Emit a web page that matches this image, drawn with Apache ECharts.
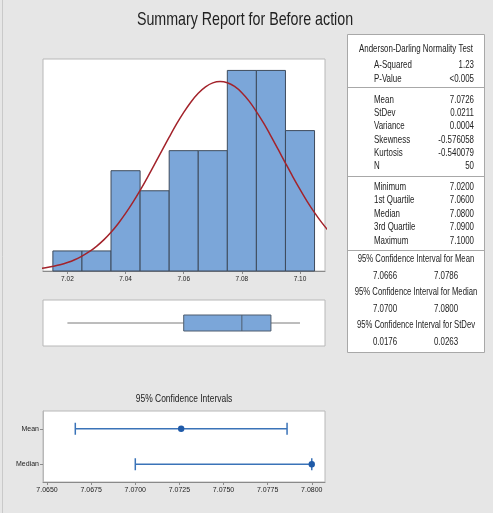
<!DOCTYPE html>
<html lang="en">
<head>
  <meta charset="UTF-8">
  <title>Summary Report for Before action</title>
  <style>
    html, body { margin: 0; padding: 0; background: #e6e6e6; }
    #main { width: 493px; height: 513px; }
  </style>
</head>
<body>
  <div id="main"></div>
  <script src="https://cdn.jsdelivr.net/npm/echarts@6/dist/echarts.min.js"></script>
  <script>
    // histogram bins (lower edge, upper edge) and counts
    var binLo = [7.015, 7.025, 7.035, 7.045, 7.055, 7.065, 7.075, 7.085, 7.095];
    var binHi = [7.025, 7.035, 7.045, 7.055, 7.065, 7.075, 7.085, 7.095, 7.105];
    var binCount = [1, 1, 5, 4, 6, 6, 10, 10, 7];

    // fitted normal curve
    var curveX = [7.0100, 7.0125, 7.0150, 7.0175, 7.0200, 7.0225, 7.0250, 7.0275, 7.0300, 7.0325,
      7.0350, 7.0375, 7.0400, 7.0425, 7.0450, 7.0475, 7.0500, 7.0525, 7.0550, 7.0575,
      7.0600, 7.0625, 7.0650, 7.0675, 7.0700, 7.0725, 7.0750, 7.0775, 7.0800, 7.0825,
      7.0850, 7.0875, 7.0900, 7.0925, 7.0950, 7.0975, 7.1000, 7.1025, 7.1050, 7.1075, 7.1100];
    var curveY = [0.12, 0.16, 0.23, 0.31, 0.42, 0.56, 0.74, 0.96, 1.23, 1.55,
      1.93, 2.37, 2.87, 3.42, 4.02, 4.66, 5.33, 6.00, 6.67, 7.32,
      7.91, 8.43, 8.86, 9.18, 9.38, 9.45, 9.39, 9.20, 8.89, 8.47,
      7.95, 7.37, 6.73, 6.06, 5.38, 4.71, 4.07, 3.46, 2.91, 2.41, 1.96];

    var histTicks = [7.02, 7.04, 7.06, 7.08, 7.10];

    // five number summary
    var boxStats = [7.0200, 7.0600, 7.0800, 7.0900, 7.1000];

    // confidence intervals
    var ciNames = ['Median', 'Mean'];
    var ciLow = [7.0700, 7.0666];
    var ciHigh = [7.0800, 7.0786];
    var ciEst = [7.0800, 7.0726];
    var ciTicks = [7.0650, 7.0675, 7.0700, 7.0725, 7.0750, 7.0775, 7.0800];

    // text panel
    var adRows = [['A-Squared', '1.23'], ['P-Value', '<0.005']];
    var momentRows = [['Mean', '7.0726'], ['StDev', '0.0211'], ['Variance', '0.0004'],
      ['Skewness', '-0.576058'], ['Kurtosis', '-0.540079'], ['N', '50']];
    var quartRows = [['Minimum', '7.0200'], ['1st Quartile', '7.0600'], ['Median', '7.0800'],
      ['3rd Quartile', '7.0900'], ['Maximum', '7.1000']];
    var ciRows = [['95% Confidence Interval for Mean', '7.0666', '7.0786'],
      ['95% Confidence Interval for Median', '7.0700', '7.0800'],
      ['95% Confidence Interval for StDev', '0.0176', '0.0263']];

    var FONT = '"Liberation Sans", Arial, sans-serif';
    var BLUE = '#7ba6d9';
    var TXT = '#222';

    var myChart = echarts.init(document.getElementById('main'));

    function histItem(params, api) {
      var p0 = api.coord([api.value(0), api.value(2)]);
      var p1 = api.coord([api.value(1), 0]);
      return {
        type: 'rect',
        shape: { x: p0[0], y: p0[1], width: p1[0] - p0[0], height: p1[1] - p0[1] },
        style: { fill: BLUE, stroke: '#3e4b5c', lineWidth: 1 }
      };
    }

    function boxItem(params, api) {
      var mn = api.coord([api.value(0), 0.5]);
      var q1 = api.coord([api.value(1), 0.5]);
      var md = api.coord([api.value(2), 0.5]);
      var q3 = api.coord([api.value(3), 0.5]);
      var mx = api.coord([api.value(4), 0.5]);
      var h = 8, y = mn[1];
      var ws = { stroke: '#7a7a7a', lineWidth: 1 };
      return {
        type: 'group',
        children: [
          { type: 'line', shape: { x1: mn[0], y1: y, x2: q1[0], y2: y }, style: ws },
          { type: 'line', shape: { x1: q3[0], y1: y, x2: mx[0], y2: y }, style: ws },
          { type: 'rect', shape: { x: q1[0], y: y - h, width: q3[0] - q1[0], height: 2 * h },
            style: { fill: BLUE, stroke: '#4e5d6e', lineWidth: 1 } },
          { type: 'line', shape: { x1: md[0], y1: y - h, x2: md[0], y2: y + h },
            style: { stroke: '#4e5d6e', lineWidth: 1 } }
        ]
      };
    }

    function ciItem(params, api) {
      var row = api.value(0);
      var a = api.coord([api.value(1), row]);
      var b = api.coord([api.value(2), row]);
      var e = api.coord([api.value(3), row]);
      var y = a[1], c = 6;
      var ls = { stroke: '#3a73b8', lineWidth: 1.5 };
      return {
        type: 'group',
        children: [
          { type: 'line', shape: { x1: a[0], y1: y, x2: b[0], y2: y }, style: ls },
          { type: 'line', shape: { x1: a[0], y1: y - c, x2: a[0], y2: y + c }, style: ls },
          { type: 'line', shape: { x1: b[0], y1: y - c, x2: b[0], y2: y + c }, style: ls },
          { type: 'circle', shape: { cx: e[0], cy: y, r: 3.2 }, style: { fill: '#1f5aa8' } }
        ]
      };
    }

    // text bits are squeezed horizontally, the original uses a narrow face
    var panel = [];
    function txt(s, x, y, align, size, sx) {
      panel.push({
        type: 'text', z: 10, x: x, y: y, scaleX: sx || 0.72,
        style: { text: s, x: 0, y: 0, align: align, verticalAlign: 'middle',
          fontFamily: FONT, fontSize: size || 11, fill: TXT }
      });
    }
    function sep(y) {
      panel.push({ type: 'line', z: 10, shape: { x1: 347, y1: y, x2: 485, y2: y },
        style: { stroke: '#a8a8a8', lineWidth: 1 } });
    }
    panel.push({ type: 'rect', z: 9, shape: { x: 347.5, y: 34.5, width: 137, height: 318 },
      style: { fill: '#fff', stroke: '#a8a8a8', lineWidth: 1 } });
    txt('Anderson-Darling Normality Test', 416, 48.5, 'center');
    adRows.forEach(function (r, i) {
      txt(r[0], 374, 64.5 + i * 14.5, 'left');
      txt(r[1], 474, 64.5 + i * 14.5, 'right');
    });
    sep(87.5);
    momentRows.forEach(function (r, i) {
      txt(r[0], 374, 99.5 + i * 13.35, 'left');
      txt(r[1], 474, 99.5 + i * 13.35, 'right');
    });
    sep(176.5);
    quartRows.forEach(function (r, i) {
      txt(r[0], 374, 186.5 + i * 13.6, 'left');
      txt(r[1], 474, 186.5 + i * 13.6, 'right');
    });
    sep(250.5);
    ciRows.forEach(function (r, i) {
      txt(r[0], 416, 258.5 + i * 33.4, 'center', 11, 0.7);
      txt(r[1], 385, 275.5 + i * 33.4, 'center');
      txt(r[2], 446, 275.5 + i * 33.4, 'center');
    });
    txt('Summary Report for Before action', 245, 20, 'center', 19, 0.75);
    txt('95% Confidence Intervals', 184, 399, 'center', 11, 0.77);
    panel.push({ type: 'line', shape: { x1: 2.5, y1: 0, x2: 2.5, y2: 513 },
      style: { stroke: '#c9c9c9', lineWidth: 1 } });

    var frame = { show: true, backgroundColor: '#fff', borderColor: '#b8b8b8', borderWidth: 1 };

    var option = {
      backgroundColor: '#e6e6e6',
      animation: false,
      textStyle: { fontFamily: FONT },
      grid: [
        Object.assign({ left: 43, top: 59, width: 282, height: 212 }, frame),
        Object.assign({ left: 43, top: 300, width: 282, height: 46 }, frame),
        Object.assign({ left: 43, top: 411, width: 282, height: 71 }, frame)
      ],
      xAxis: [{
        gridIndex: 0, type: 'value', min: 7.0116, max: 7.1086,
        axisLine: { show: true, lineStyle: { color: '#8a8a8a' } },
        axisTick: { show: true, customValues: histTicks, length: 3, lineStyle: { color: '#8a8a8a' } },
        axisLabel: { customValues: histTicks, fontSize: 6.5, color: TXT, margin: 5,
          formatter: function (v) { return v.toFixed(2); } },
        splitLine: { show: false }
      }, {
        gridIndex: 1, type: 'value', min: 7.0116, max: 7.1086, show: false
      }, {
        gridIndex: 2, type: 'value', min: 7.06477, max: 7.08075,
        axisLine: { show: true, lineStyle: { color: '#8a8a8a' } },
        axisTick: { show: true, customValues: ciTicks, length: 3, lineStyle: { color: '#8a8a8a' } },
        axisLabel: { customValues: ciTicks, fontSize: 7, color: TXT, margin: 5,
          formatter: function (v) { return v.toFixed(4); } },
        splitLine: { show: false }
      }],
      yAxis: [{
        gridIndex: 0, type: 'value', min: 0, max: 10.57, show: false
      }, {
        gridIndex: 1, type: 'value', min: 0, max: 1, show: false
      }, {
        gridIndex: 2, type: 'category', data: ciNames,
        axisLine: { show: true, lineStyle: { color: '#b8b8b8' } },
        axisTick: { show: true, alignWithLabel: true, length: 3, lineStyle: { color: '#8a8a8a' } },
        axisLabel: { fontSize: 7, color: TXT, margin: 4 }
      }],
      series: [{
        type: 'custom', name: 'hist', xAxisIndex: 0, yAxisIndex: 0,
        renderItem: histItem,
        encode: { x: [0, 1], y: 2 },
        data: binLo.map(function (lo, i) { return [lo, binHi[i], binCount[i]]; })
      }, {
        type: 'line', name: 'normal', xAxisIndex: 0, yAxisIndex: 0,
        smooth: 0.3, showSymbol: false, clip: true, z: 5,
        lineStyle: { color: '#a3232b', width: 1.5 },
        data: curveX.map(function (x, i) { return [x, curveY[i]]; })
      }, {
        type: 'custom', name: 'box', xAxisIndex: 1, yAxisIndex: 1,
        renderItem: boxItem,
        data: [boxStats]
      }, {
        type: 'custom', name: 'ci', xAxisIndex: 2, yAxisIndex: 2,
        renderItem: ciItem,
        encode: { x: [1, 2, 3], y: 0 },
        data: ciNames.map(function (n, i) { return [i, ciLow[i], ciHigh[i], ciEst[i]]; })
      }],
      graphic: panel
    };

    option && myChart.setOption(option);
  </script>
</body>
</html>
